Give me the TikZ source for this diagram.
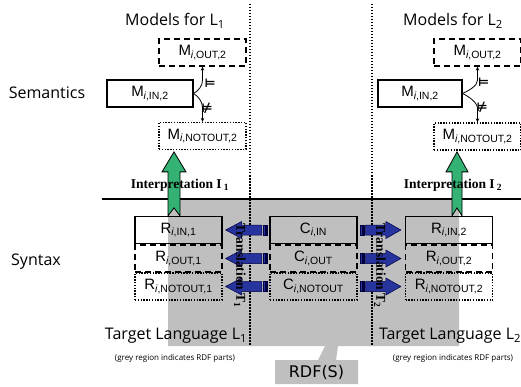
\documentclass[tikz,border=0pt]{standalone}
\usepackage{fontspec}
\newfontfamily\handfont{Open Sans}
\newfontfamily\boxfont{Liberation Sans}
\newfontfamily\serfont{Liberation Serif}
\newfontfamily\rdffont{DejaVu Sans}
\usepackage{tikz}
\usetikzlibrary{arrows.meta}
\definecolor{interpgreen}{RGB}{52,178,116}
\definecolor{transblue}{RGB}{40,52,158}
\tikzset{
  model/.style={draw, line width=1.2pt, minimum width=87pt, minimum height=27pt, inner sep=0pt, font=\boxfont\fontsize{15}{17}\selectfont},
  inbox/.style={model},
  outbox/.style={model, dash pattern=on 6pt off 4pt},
  notbox/.style={model, dash pattern=on 1.4pt off 1.4pt},
  hand/.style={font=\handfont\fontsize{16}{18}\selectfont},
  note/.style={font=\handfont\fontsize{8}{9}\selectfont},
  maplabel/.style={font=\serfont\bfseries\fontsize{13.5}{15}\selectfont},
  satlabel/.style={inner sep=0pt, font=\rdffont\bfseries\fontsize{12}{12}\selectfont},
  rdfpart/.style={fill=black, fill opacity=0.25},
  ent/.style={-{Stealth[length=4pt,width=3.5pt]}, line width=0.8pt},
  interp/.style={fill=interpgreen, draw=black, line width=0.8pt},
  trans/.style={fill=transblue, draw=blue!25!black, line width=0.5pt},
  divider/.style={line width=1.5pt, dash pattern=on 1.5pt off 1.5pt}
}
\begin{document}
\begin{tikzpicture}[x=1pt,y=-1pt]
\useasboundingbox (0,0) rectangle (521,387);
\draw[divider] (250,4) -- (250,346);
\draw[divider] (372,4) -- (372,346);
\draw[line width=1.8pt] (102,199) -- (521,199);

% models
\node[hand] (mod1) at (175,21) {Models for L\textsubscript{1}};
\node[hand] (mod2) at (453,21) {Models for L\textsubscript{2}};
\node[hand] (sem) at (47,93) {Semantics};
\node[outbox] (mo1) at (202.5,52.5) {M\textsubscript{\textit{i},OUT,2}};
\node[inbox, minimum width=86pt] (mi1) at (150,93.5) {M\textsubscript{\textit{i},IN,2}};
\node[notbox] (mn1) at (202.5,136) {M\textsubscript{\textit{i},NOTOUT,2}};
\node[outbox] (mo2) at (477.5,52.5) {M\textsubscript{\textit{i},OUT,2}};
\node[inbox, minimum width=84pt] (mi2) at (420,93.5) {M\textsubscript{\textit{i},IN,2}};
\node[notbox] (mn2) at (477.5,136.5) {M\textsubscript{\textit{i},NOTOUT,2}};
\draw[ent] (mi1.east) .. controls +(5,-3) and +(0,6) .. ([yshift=-13.5pt]mo1.south) -- (mo1.south);
\draw[ent] (mi1.east) .. controls +(5,3) and +(0,-6) .. ([yshift=14pt]mn1.north) -- (mn1.north);
\draw[ent] (mi2.east) .. controls +(6,-3) and +(0,6) .. ([yshift=-13.5pt]mo2.south) -- (mo2.south);
\draw[ent] (mi2.east) .. controls +(6,3) and +(0,-6) .. ([yshift=14pt]mn2.north) -- (mn2.north);
\node[satlabel] (sat1) at (210,83) {⊨};
\node[satlabel] (nsat1) at (207,108) {⊭};
\node[satlabel] (sat2) at (483.5,82) {⊨};
\node[satlabel] (nsat2) at (482,107) {⊭};

% syntax
\node[hand] (syn) at (36,262) {Syntax};
\node[inbox] (ri1) at (178.5,230) {R\textsubscript{\textit{i},IN,1}};
\node[outbox] (ro1) at (178.5,258.5) {R\textsubscript{\textit{i},OUT,1}};
\node[notbox] (rn1) at (178.5,286.5) {R\textsubscript{\textit{i},NOTOUT,1}};
\node[inbox] (ci) at (313.5,230) {C\textsubscript{\textit{i},IN}};
\node[outbox] (co) at (313.5,258.5) {C\textsubscript{\textit{i},OUT}};
\node[notbox] (cn) at (313.5,286.5) {C\textsubscript{\textit{i},NOTOUT}};
\node[inbox] (ri2) at (449,230) {R\textsubscript{\textit{i},IN,2}};
\node[outbox] (ro2) at (449,258.5) {R\textsubscript{\textit{i},OUT,2}};
\node[notbox] (rn2) at (449,286.5) {R\textsubscript{\textit{i},NOTOUT,2}};

% target languages
\node[hand] (tl1) at (176,336) {Target Language L\textsubscript{1}};
\node[hand] (tl2) at (450,336) {Target Language L\textsubscript{2}};
\node[note] (gr1) at (175,358) {(grey region indicates RDF parts)};
\node[note] (gr2) at (453,358) {(grey region indicates RDF parts)};
\node[font=\rdffont\fontsize{16}{18}\selectfont] (rdf) at (316.5,372) {RDF(S)};

% RDF(S) part, laid over the syntax boxes
\fill[rdfpart] (168,199.9) rectangle (459,346) (325,346) -- (338,346) -- (336,360) -- (318,360) -- cycle (275,360) rectangle (358,384);

% interpretation arrows
\draw[interp] ([xshift=-4.5pt]ri1.north) ++(0,-8) -- ++(6,8) -- ++(0,-44) -- ++(6,0) -- ++(-12,-20) -- ++(-12,20) -- ++(6,0) -- ++(0,44) -- cycle;
\draw[interp] ([xshift=8pt]ri2.north) ++(0,-8) -- ++(5,8) -- ++(0,-44) -- ++(6,0) -- ++(-11,-20) -- ++(-11,20) -- ++(6,0) -- ++(0,44) -- cycle;
\node[maplabel] (int1) at (180,185) {Interpretation I\,\textsubscript{1}};
\node[maplabel] (int2) at (453,185) {Interpretation I\,\textsubscript{2}};

% translation arrows
\foreach \c/\r in {ci/ri1,co/ro1,cn/rn1}{
  \draw[trans] ([xshift=-7.5pt,yshift=5pt]\c.west) -- ([xshift=19pt,yshift=5pt]\r.east) -- ([xshift=19pt,yshift=8.5pt]\r.east) -- ([xshift=3pt]\r.east) -- ([xshift=19pt,yshift=-8.5pt]\r.east) -- ([xshift=19pt,yshift=-5pt]\r.east) -- ([xshift=-7.5pt,yshift=-5pt]\c.west) -- cycle;
  \draw[trans] ([xshift=-2pt,yshift=5pt]\c.west) rectangle ([xshift=-3.5pt,yshift=-5pt]\c.west);
  \draw[trans] ([xshift=-4.5pt,yshift=5pt]\c.west) rectangle ([xshift=-6pt,yshift=-5pt]\c.west);
}
\foreach \c/\r in {ci/ri2,co/ro2,cn/rn2}{
  \draw[trans] ([xshift=8pt,yshift=5pt]\c.east) -- ([xshift=-19pt,yshift=5pt]\r.west) -- ([xshift=-19pt,yshift=8.5pt]\r.west) -- ([xshift=-4pt]\r.west) -- ([xshift=-19pt,yshift=-8.5pt]\r.west) -- ([xshift=-19pt,yshift=-5pt]\r.west) -- ([xshift=8pt,yshift=-5pt]\c.east) -- cycle;
  \draw[trans] ([xshift=3pt,yshift=5pt]\c.east) rectangle ([xshift=4.5pt,yshift=-5pt]\c.east);
  \draw[trans] ([xshift=5.5pt,yshift=5pt]\c.east) rectangle ([xshift=7pt,yshift=-5pt]\c.east);
}
\node[maplabel, rotate=-90] (tr1) at (240,266) {Translation T\textsubscript{1}};
\node[maplabel, rotate=-90] (tr2) at (380,266) {Translation T\textsubscript{2}};
\end{tikzpicture}
\end{document}
